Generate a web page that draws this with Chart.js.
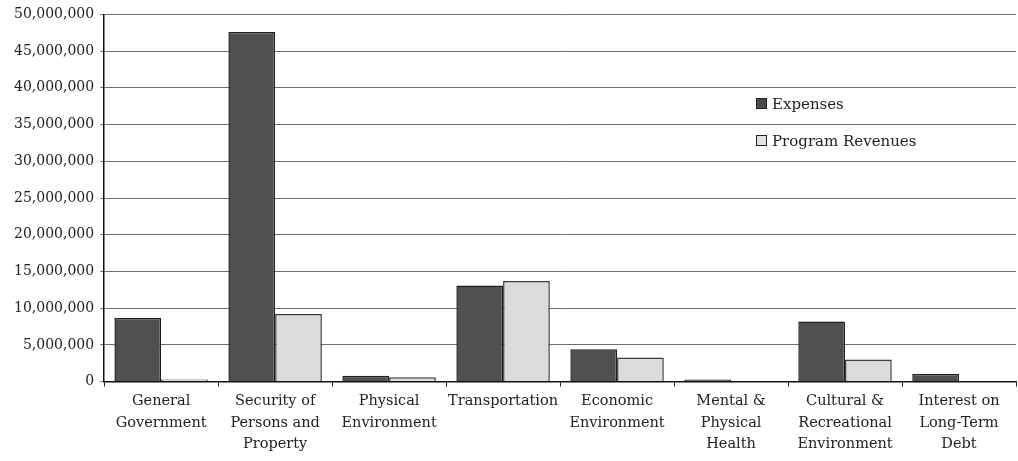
<!DOCTYPE html>
<html>
<head>
<meta charset="utf-8">
<script src="https://cdn.jsdelivr.net/npm/chart.js@4/dist/chart.umd.min.js"></script>
<style>
  html, body { margin: 0; padding: 0; background: #fff; }
  #wrap { position: relative; width: 1018px; height: 461px; }
  .legend { position: absolute; left: 756px; font: 15px "DejaVu Serif", serif; color: #222; }
  .legend span { display: inline-block; width: 9px; height: 9px; border: 1px solid #222; margin-right: 5px; vertical-align: 0px; }
</style>
</head>
<body>
<div id="wrap">
  <canvas id="chart" width="1018" height="461"></canvas>
  <div class="legend" style="top: 95px;"><span style="background:#4a4a4a"></span>Expenses</div>
  <div class="legend" style="top: 132px;"><span style="background:#e2e2e2"></span>Program Revenues</div>
</div>
<script>
// categories and values (null = no bar drawn)
const categories = [
  ['General', 'Government'],
  ['Security of', 'Persons and', 'Property'],
  ['Physical', 'Environment'],
  ['Transportation'],
  ['Economic', 'Environment'],
  ['Mental &', 'Physical', 'Health'],
  ['Cultural &', 'Recreational', 'Environment'],
  ['Interest on', 'Long-Term', 'Debt']
];
const expenses = [8650000, 47600000, 800000, 13100000, 4400000, 100000, 8200000, 1050000];
const programRevenues = [100000, 9200000, 600000, 13700000, 3300000, null, 3000000, null];
const yTicks = [0, 5000000, 10000000, 15000000, 20000000, 25000000, 30000000, 35000000, 40000000, 45000000, 50000000];

const serif = '"DejaVu Serif", serif';

const ctx = document.getElementById('chart').getContext('2d');
new Chart(ctx, {
  type: 'bar',
  data: {
    labels: categories,
    datasets: [{
      label: 'Expenses',
      data: expenses,
      backgroundColor: '#505050',
      borderColor: '#1e1e1e',
      borderWidth: 1.5
    }, {
      label: 'Program Revenues',
      data: programRevenues,
      backgroundColor: '#dcdcdc',
      borderColor: '#3a3a3a',
      borderWidth: 1.5
    }]
  },
  options: {
    responsive: false,
    animation: false,
    layout: { padding: { left: 8, top: 11, right: 2, bottom: 2 } },
    plugins: {
      legend: { display: false },
      tooltip: { enabled: false }
    },
    datasets: {
      bar: { categoryPercentage: 0.82, barPercentage: 1.0, minBarLength: 2 }
    },
    scales: {
      x: {
        offset: true,
        grid: {
          offset: true,
          drawOnChartArea: false,
          drawTicks: true,
          tickLength: 5,
          color: '#222'
        },
        border: { color: '#111', width: 1.5 },
        ticks: {
          font: { family: serif, size: 14.5, lineHeight: 1.48 },
          color: '#222', maxRotation: 0, autoSkip: false, padding: 4
        }
      },
      y: {
        min: 0,
        max: 50000000,
        afterBuildTicks: axis => { axis.ticks = yTicks.map(v => ({ value: v })); },
        grid: { color: '#6e6e6e', lineWidth: 1, tickLength: 4 },
        border: { color: '#111', width: 1.5 },
        ticks: {
          font: { family: serif, size: 14 },
          color: '#222',
          padding: 6,
          callback: v => v.toLocaleString('en-US')
        }
      }
    }
  }
});
</script>
</body>
</html>
